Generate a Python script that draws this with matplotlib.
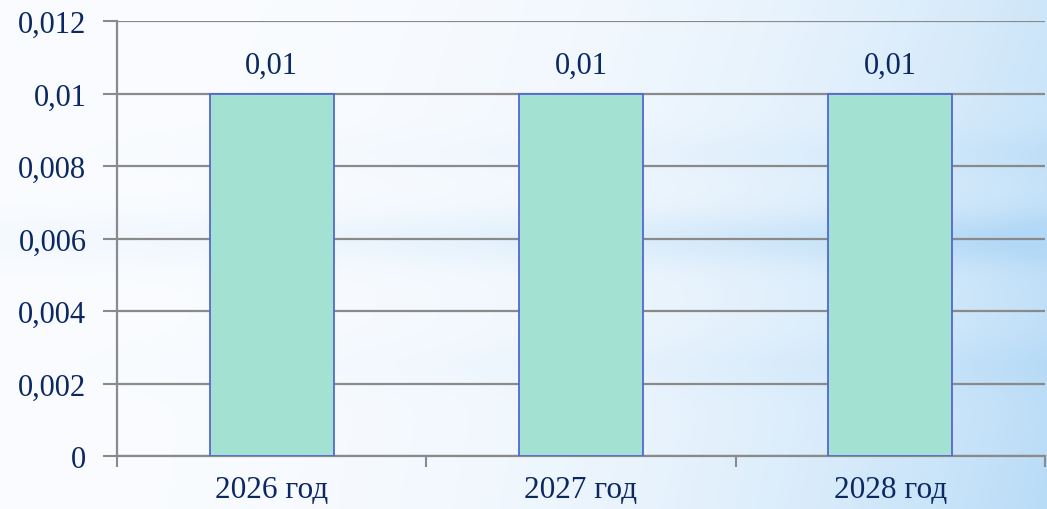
import matplotlib
matplotlib.use("Agg")
import matplotlib.pyplot as plt
from matplotlib.ticker import FuncFormatter, FixedLocator
import numpy as np

# данные
categories = ["2026 год", "2027 год", "2028 год"]
values = [0.01, 0.01, 0.01]
value_labels = ["0,01", "0,01", "0,01"]
y_ticks = [0, 0.002, 0.004, 0.006, 0.008, 0.01, 0.012]

txt_color = "#0b2862"
grid_color = "#8a8a8a"

plt.rcParams["font.family"] = ["Liberation Serif", "DejaVu Serif"]

fig = plt.figure(figsize=(10.47, 5.10), dpi=100)

# фон: градиент от белого к голубому с горизонтальными полосами
bg = fig.add_axes([0, 0, 1, 1], zorder=0)
h, w = 255, 520
xx = np.linspace(0, 1, w)[None, :]
yy = np.linspace(0, 1, h)[:, None]
t = 0.02 + 0.6 * xx ** 3 + 0.3 * yy * xx ** 2
band = np.exp(-((yy - 0.47) / 0.05) ** 2) * (0.15 + 0.6 * xx) \
    + np.exp(-((yy - 0.30) / 0.04) ** 2) * 0.25 * xx \
    + np.exp(-((yy - 0.72) / 0.05) ** 2) * 0.25 * xx
t = np.clip(t + band * 0.45, 0, 1)
c0 = np.array([0.985, 0.99, 1.0])
c1 = np.array([0.70, 0.85, 0.965])
img = c0[None, None, :] * (1 - t[..., None]) + c1[None, None, :] * t[..., None]
bg.imshow(img, aspect="auto", extent=[0, 1, 1, 0], interpolation="bicubic")
bg.set_xlim(0, 1)
bg.set_ylim(1, 0)
bg.axis("off")

ax = fig.add_axes([117 / 1047, 1 - 457 / 510, (1045 - 117) / 1047, (457 - 22) / 510], zorder=1)
ax.patch.set_alpha(0)

x = np.arange(len(categories))
ax.bar(x, values, width=0.4, color="#a3e2d2", edgecolor="#5566d4", linewidth=1.3, zorder=3)

for xi, v, lab in zip(x, values, value_labels):
    ax.annotate(lab, (xi, v), xytext=(0, 10), textcoords="offset points",
                ha="center", va="bottom", fontsize=22, color=txt_color)

ax.set_xlim(-0.5, len(categories) - 0.5)
ax.set_ylim(0, 0.012)
ax.yaxis.set_major_locator(FixedLocator(y_ticks))
ax.yaxis.set_major_formatter(FuncFormatter(lambda v, p: f"{v:g}".replace(".", ",")))
ax.grid(axis="y", color=grid_color, linewidth=1.6, zorder=1)
ax.set_axisbelow(True)

ax.set_xticks(x)
ax.set_xticklabels(categories)
ax.set_xticks(np.arange(len(categories) + 1) - 0.5, minor=True)
ax.tick_params(axis="x", which="major", length=0, pad=14, labelsize=22.5, labelcolor=txt_color)
ax.tick_params(axis="x", which="minor", length=8, width=1.5, color=grid_color, direction="out")
ax.tick_params(axis="y", length=10, width=1.5, color=grid_color, pad=12, labelsize=22, labelcolor=txt_color)

for s in ["top", "right"]:
    ax.spines[s].set_visible(False)
for s in ["left", "bottom"]:
    ax.spines[s].set_color(grid_color)
    ax.spines[s].set_linewidth(1.6)

fig.savefig("out.png", dpi=100)
